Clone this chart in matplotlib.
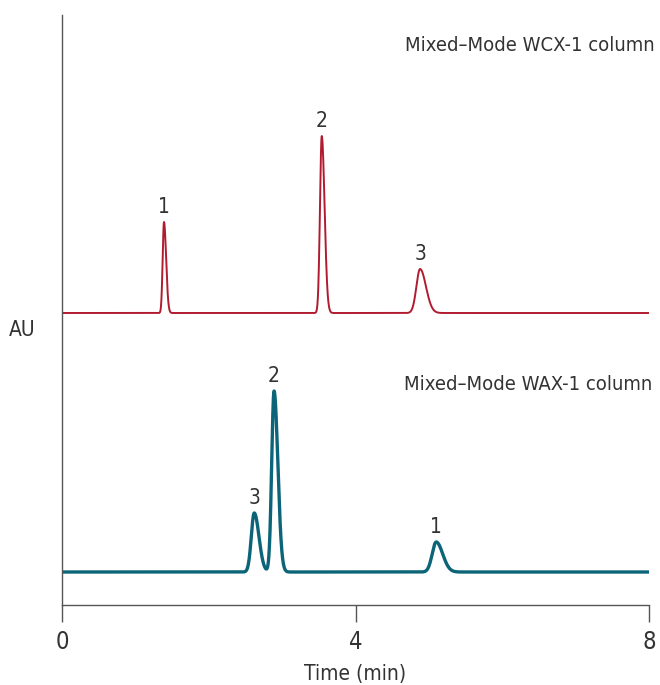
import numpy as np
import matplotlib.pyplot as plt
from matplotlib import font_manager

# retention times (min), heights and widths
wcx_rt = [1.39, 3.54, 4.88]
wcx_height = [91, 177, 44]
wcx_sigma = [0.018, 0.024, 0.050]
wcx_labels = ["1", "2", "3"]
wcx_offset = 292

wax_rt = [2.62, 2.89, 5.10]
wax_height = [59, 181, 30]
wax_sigma = [0.040, 0.032, 0.055]
wax_labels = ["3", "2", "1"]
wax_offset = 33

x_ticks = [0, 4, 8]

# prefer a condensed sans face for the labels
fonts = font_manager.fontManager.ttflist
names = {f.name for f in fonts}
condensed = [f for f in fonts if f.name == "DejaVu Sans" and f.stretch == "condensed"]
if condensed:
    plt.rcParams['font.family'] = ['DejaVu Sans']
    plt.rcParams['font.stretch'] = 'condensed'
elif "Liberation Sans Narrow" in names:
    plt.rcParams['font.family'] = ['Liberation Sans Narrow', 'DejaVu Sans']
else:
    plt.rcParams['font.family'] = ['Roboto', 'DejaVu Sans']

txt = '#333333'
t = np.linspace(0, 8, 4000)


def trace(rts, heights, sigmas, offset, tail=1.6):
    y = np.full_like(t, offset, dtype=float)
    for rt, h, s in zip(rts, heights, sigmas):
        sd = np.where(t < rt, s, s * tail)
        y += h * np.exp(-0.5 * ((t - rt) / sd) ** 2)
    return y


fig = plt.figure(figsize=(6.6, 6.85), dpi=100)
ax = fig.add_axes([62 / 660, 80 / 685, 587 / 660, 590 / 685])

ax.plot(t, trace(wcx_rt, wcx_height, wcx_sigma, wcx_offset), color='#b11b2f', lw=1.4)
ax.plot(t, trace(wax_rt, wax_height, wax_sigma, wax_offset), color='#0b6478', lw=2.4)

for rt, h, lab in zip(wcx_rt, wcx_height, wcx_labels):
    ax.text(rt, wcx_offset + h + 5, lab, ha='center', va='bottom', fontsize=15, color=txt)
for rt, h, lab in zip(wax_rt, wax_height, wax_labels):
    ax.text(rt, wax_offset + h + 5, lab, ha='center', va='bottom', fontsize=15, color=txt)

ax.text(8.07, 560, "Mixed–Mode WCX-1 column", ha='right', va='center', fontsize=14.5, color=txt)
ax.text(8.04, 221, "Mixed–Mode WAX-1 column", ha='right', va='center', fontsize=14.5, color=txt)

ax.set_xlim(0, 8)
ax.set_ylim(0, 590)
ax.set_xticks(x_ticks)
ax.set_xticklabels([str(v) for v in x_ticks], fontsize=17, color=txt)
ax.set_yticks([])
ax.tick_params(axis='x', length=12, width=1, color='#555555', pad=6)
ax.set_xlabel("Time (min)", fontsize=15, color=txt, labelpad=7)
fig.text(22 / 660, 1 - 330 / 685, "AU", ha='center', va='center', fontsize=15, color=txt)

for side in ['top', 'right']:
    ax.spines[side].set_visible(False)
for side in ['left', 'bottom']:
    ax.spines[side].set_color('#555555')
    ax.spines[side].set_linewidth(1)

fig.savefig("out.png", dpi=100)
